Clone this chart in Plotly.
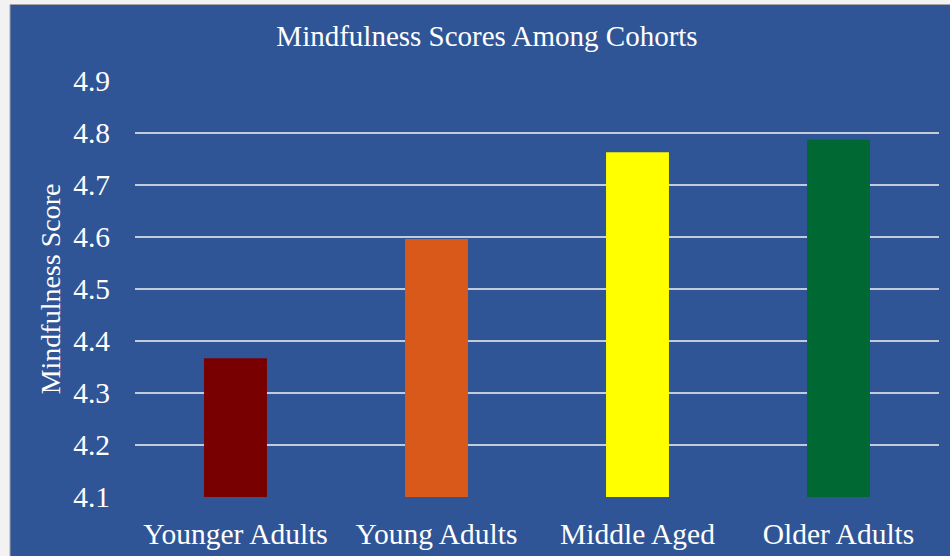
import plotly.graph_objects as go

categories = ["Younger Adults", "Young Adults", "Middle Aged", "Older Adults"]
scores = [4.367, 4.596, 4.763, 4.787]
bar_colors = ["#780000", "#D9591A", "#FFFF00", "#006832"]
y_ticks = [4.1, 4.2, 4.3, 4.4, 4.5, 4.6, 4.7, 4.8, 4.9]

BLUE = "#2F5597"
FONT = "Liberation Serif, Times New Roman, serif"

W, H = 950, 556
L, R, T, B = 135, 11, 81, 59
pw = W - L - R
ph = H - T - B

fig = go.Figure(go.Bar(
    x=categories, y=[s - 4.1 for s in scores], base=4.1,
    marker=dict(color=bar_colors, line=dict(width=0)),
    hoverinfo="skip",
))

def px2x(p):
    return (p - L) / pw

def py2y(p):
    return (H - B - p) / ph

fig.add_shape(type="rect", xref="paper", yref="paper",
              x0=px2x(10), x1=px2x(960), y0=py2y(566), y1=py2y(4.5),
              fillcolor=BLUE, line=dict(color="#A6A6A6", width=1), layer="below")

fig.update_layout(
    width=W, height=H,
    margin=dict(l=L, r=R, t=T, b=B, autoexpand=False),
    paper_bgcolor="#F2F2F2",
    plot_bgcolor="rgba(0,0,0,0)",
    font=dict(family=FONT, color="white", size=28),
    bargap=0.687,
    showlegend=False,
    title=dict(text="Mindfulness Scores Among Cohorts", x=487 / W, xanchor="center",
               y=1 - 36 / H, yanchor="middle", yref="container",
               font=dict(family=FONT, size=29, color="white")),
)
fig.update_xaxes(showgrid=False, showline=False, zeroline=False, ticks="", automargin=False,
                 ticklabelstandoff=16, tickfont=dict(size=29.5, family=FONT, color="white"))
fig.update_yaxes(range=[4.1, 4.9], tickvals=y_ticks, ticktext=[f"{v:.1f}" for v in y_ticks],
                 showgrid=True, gridcolor="#C3CADA", gridwidth=1.5, zeroline=False,
                 showline=False, ticks="", ticklabelstandoff=24, automargin=False,
                 tickfont=dict(size=29.5, family=FONT, color="white"),
                 title=dict(text="Mindfulness Score", standoff=4,
                            font=dict(size=28, family=FONT, color="white")))

fig.write_html("out.html")
